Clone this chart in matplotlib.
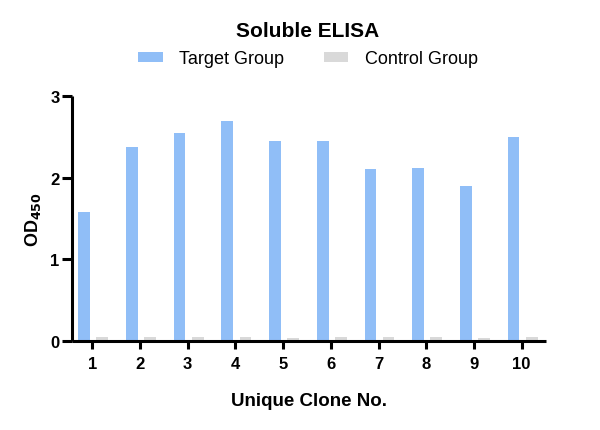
import matplotlib
matplotlib.use("Agg")
import matplotlib.pyplot as plt
import numpy as np

plt.rcParams['font.family'] = ['Liberation Sans', 'DejaVu Sans']

clones = [1, 2, 3, 4, 5, 6, 7, 8, 9, 10]
target = [1.58, 2.37, 2.54, 2.69, 2.45, 2.45, 2.10, 2.12, 1.89, 2.49]
control = [0.05, 0.05, 0.05, 0.045, 0.04, 0.05, 0.045, 0.055, 0.035, 0.045]
series_names = ["Target Group", "Control Group"]
colors = ["#90BEF7", "#D9D9D9"]

fig = plt.figure(figsize=(6.0, 4.31), dpi=100)
ax = fig.add_axes([0.12, 0.2065, 0.79, 0.569])

x = np.array(clones, dtype=float)
w = 0.245
b1 = ax.bar(x - 0.17, target, width=w, color=colors[0], label=series_names[0])
b2 = ax.bar(x + 0.21, control, width=w, color=colors[1], label=series_names[1])

ax.set_xlim(0.574, 10.51)
ax.set_ylim(0, 3)
ax.set_yticks([0, 1, 2, 3])
ax.set_xticks(clones)
ax.set_xticklabels([str(c) for c in clones])

for s in ['top', 'right']:
    ax.spines[s].set_visible(False)
for s in ['left', 'bottom']:
    ax.spines[s].set_linewidth(2.2)
    ax.spines[s].set_capstyle('butt')
ax.tick_params(axis='x', width=2.2, length=6, labelsize=12, pad=5)
ax.tick_params(axis='y', width=2.2, length=7, labelsize=12, pad=2)
for lab in ax.get_xticklabels() + ax.get_yticklabels():
    lab.set_fontweight('bold')

ax.set_xlabel("Unique Clone No.", fontsize=13.5, fontweight='bold', labelpad=15)
ax.set_ylabel("OD$_{\\mathbf{450}}$", fontsize=13, fontweight='bold', labelpad=5)

fig.text(0.513, 1 - 36.7 / 431, "Soluble ELISA", ha='center', va='baseline',
         fontsize=15, fontweight='bold')

fig.legend(handles=[b1, b2], labels=series_names, loc='center',
           bbox_to_anchor=(0.513, 0.861), ncol=2, frameon=False,
           fontsize=13, handlelength=1.37, handleheight=0.55,
           columnspacing=2.2, handletextpad=0.9)

fig.savefig("out.png", dpi=100)
